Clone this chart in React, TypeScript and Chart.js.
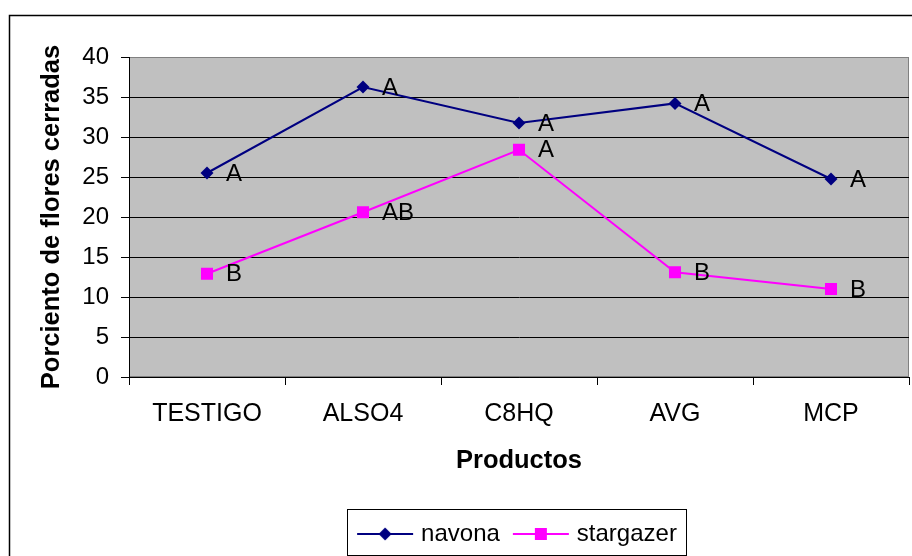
import React, { useEffect, useRef } from "react";
import { Chart, registerables } from "chart.js";

Chart.register(...registerables);

const categories = ["TESTIGO", "ALSO4", "C8HQ", "AVG", "MCP"];
const navonaValues = [25.5, 36.25, 31.75, 34.2, 24.75];
const stargazerValues = [12.9, 20.6, 28.4, 13.1, 11.0];
const navonaLetters = ["A", "A", "A", "A", "A"];
const stargazerLetters = ["B", "AB", "A", "B", "B"];
const yMin = 0;
const yMax = 40;
const yStep = 5;

const FONT = "'Liberation Sans', Arial, sans-serif";
const NAVY = "#000080";
const MAGENTA = "#FF00FF";

function makeLegendImage(color: string, style: string): HTMLCanvasElement {
  const c = document.createElement("canvas");
  c.width = 58;
  c.height = 18;
  const g = c.getContext("2d")!;
  g.strokeStyle = color;
  g.lineWidth = 2;
  g.beginPath();
  g.moveTo(1, 9);
  g.lineTo(57, 9);
  g.stroke();
  g.fillStyle = color;
  g.beginPath();
  if (style === "diamond") {
    g.moveTo(29, 2.5);
    g.lineTo(35.5, 9);
    g.lineTo(29, 15.5);
    g.lineTo(22.5, 9);
    g.closePath();
  } else {
    g.rect(23, 3, 12, 12);
  }
  g.fill();
  return c;
}

const decorPlugin = {
  id: "decor",
  beforeDraw(chart: any) {
    const { ctx, chartArea: ca, width, height } = chart;
    ctx.save();
    ctx.fillStyle = "#ffffff";
    ctx.fillRect(0, 0, width, height);
    ctx.strokeStyle = "#000000";
    ctx.lineWidth = 1.5;
    ctx.beginPath();
    ctx.moveTo(9.5, height + 5);
    ctx.lineTo(9.5, 15.5);
    ctx.lineTo(width + 5, 15.5);
    ctx.stroke();
    ctx.fillStyle = "#C0C0C0";
    ctx.fillRect(ca.left, ca.top, ca.right - ca.left, ca.bottom - ca.top);
    ctx.strokeStyle = "#808080";
    ctx.lineWidth = 1;
    ctx.strokeRect(ca.left + 0.5, ca.top + 0.5, ca.right - ca.left - 1, ca.bottom - ca.top - 1);
    ctx.restore();
  },
  afterDatasetsDraw(chart: any) {
    const { ctx } = chart;
    ctx.save();
    ctx.font = `24px ${FONT}`;
    ctx.fillStyle = "#000000";
    ctx.textAlign = "left";
    ctx.textBaseline = "middle";
    const letterSets = [navonaLetters, stargazerLetters];
    chart.data.datasets.forEach((_: any, di: number) => {
      const meta = chart.getDatasetMeta(di);
      meta.data.forEach((pt: any, i: number) => {
        ctx.fillText(letterSets[di][i], pt.x + 19, pt.y + 1);
      });
    });
    ctx.restore();
  },
  afterDraw(chart: any) {
    const lg = chart.legend;
    if (!lg || !lg.legendHitBoxes || !lg.legendHitBoxes.length) return;
    const boxes = lg.legendHitBoxes;
    const first = boxes[0];
    const last = boxes[boxes.length - 1];
    const left = Math.round(first.left - 14) + 0.5;
    const right = Math.round(last.left + last.width + 9) + 0.5;
    const top = Math.round(lg.top + 4) + 0.5;
    const bottom = Math.round(lg.bottom - 1) + 0.5;
    const { ctx } = chart;
    ctx.save();
    ctx.strokeStyle = "#000000";
    ctx.lineWidth = 1;
    ctx.strokeRect(left, top, right - left, bottom - top);
    ctx.restore();
  },
};

export default function App() {
  const ref = useRef<HTMLCanvasElement | null>(null);

  useEffect(() => {
    if (!ref.current) return;
    Chart.defaults.font.family = FONT;
    const legendImages = [makeLegendImage(NAVY, "diamond"), makeLegendImage(MAGENTA, "square")];
    const chart = new Chart(ref.current, {
      type: "line",
      data: {
        labels: categories,
        datasets: [
          {
            label: "navona",
            data: navonaValues,
            borderColor: NAVY,
            backgroundColor: NAVY,
            borderWidth: 2,
            pointStyle: "rectRot",
            pointRadius: 6.5,
            pointBorderWidth: 0,
            pointBackgroundColor: NAVY,
            tension: 0,
          },
          {
            label: "stargazer",
            data: stargazerValues,
            borderColor: MAGENTA,
            backgroundColor: MAGENTA,
            borderWidth: 2,
            pointStyle: "rect",
            pointRadius: 8.5,
            pointBorderWidth: 0,
            pointBackgroundColor: MAGENTA,
            tension: 0,
          },
        ],
      },
      options: {
        responsive: false,
        animation: false,
        devicePixelRatio: 1,
        layout: { autoPadding: false, padding: { top: 57, right: 3, left: 0, bottom: 0 } },
        plugins: {
          tooltip: { enabled: false },
          legend: {
            position: "bottom",
            fullSize: false,
            labels: {
              color: "#000000",
              font: { size: 24, family: FONT },
              usePointStyle: true,
              pointStyleWidth: 48,
              padding: 17,
              generateLabels: (ch: any) =>
                ch.data.datasets.map((ds: any, i: number) => ({
                  text: ds.label,
                  pointStyle: legendImages[i],
                  fillStyle: ds.borderColor,
                  strokeStyle: ds.borderColor,
                  lineWidth: 0,
                  hidden: false,
                  datasetIndex: i,
                  fontColor: "#000000",
                })),
            },
          },
        },
        scales: {
          x: {
            type: "category",
            offset: true,
            grid: {
              offset: true,
              drawOnChartArea: false,
              drawTicks: true,
              tickLength: 8,
              color: "#000000",
              tickColor: "#000000",
            },
            border: { color: "#000000", width: 1 },
            ticks: {
              color: "#000000",
              font: { size: 25, family: FONT },
              padding: 14,
              maxRotation: 0,
              autoSkip: false,
            },
            title: {
              display: true,
              text: "Productos",
              color: "#000000",
              font: { size: 25.5, weight: "bold", family: FONT },
              padding: { top: 0, bottom: 29 },
            },
            afterFit: (scale: any) => {
              scale.height = 128;
              scale.paddingLeft = 0;
              scale.paddingRight = 0;
            },
          },
          y: {
            min: yMin,
            max: yMax,
            grid: {
              drawTicks: true,
              tickLength: 8,
              color: (c: any) => (c.tick && c.tick.value === yMax ? "#808080" : "#000000"),
              tickColor: "#000000",
              lineWidth: 1,
            },
            border: { color: "#000000", width: 1 },
            ticks: {
              stepSize: yStep,
              color: "#000000",
              font: { size: 24, family: FONT },
              padding: 12,
            },
            title: {
              display: true,
              text: "Porciento de flores cerradas",
              color: "#000000",
              font: { size: 25.5, weight: "bold", family: FONT },
              padding: { top: 37, bottom: 0 },
            },
            afterFit: (scale: any) => {
              scale.width = 129;
              scale.paddingTop = 0;
              scale.paddingBottom = 0;
            },
          },
        },
      },
      plugins: [decorPlugin],
    } as any);
    return () => chart.destroy();
  }, []);

  return (
    <div style={{ position: "fixed", left: 0, top: 0, width: 912, height: 556 }}>
      <canvas ref={ref} width={912} height={556} style={{ display: "block" }} />
    </div>
  );
}
